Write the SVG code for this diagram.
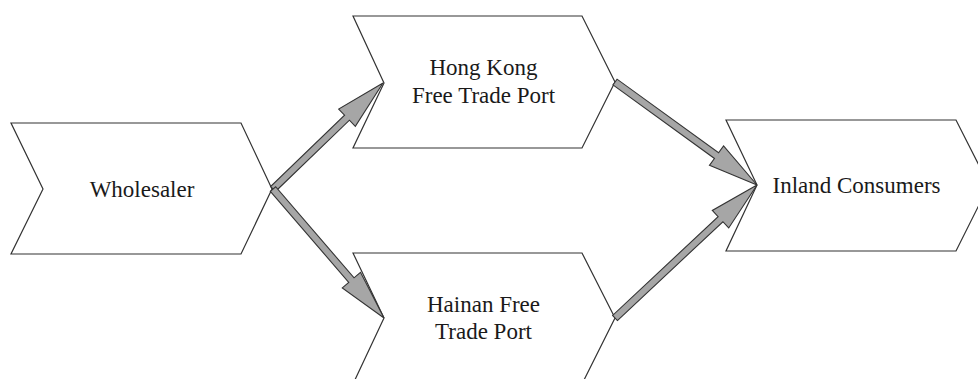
<svg xmlns="http://www.w3.org/2000/svg" width="978" height="379" viewBox="0 0 978 379">
<style>
.node{fill:#fff;stroke:#333;stroke-width:1.2;stroke-linejoin:miter}
.lbl{font-family:"Liberation Serif","Times New Roman",serif;font-size:23px;fill:#1a1a1a;text-anchor:middle}
.arr{fill:#a6a6a6;stroke:#333;stroke-width:1.1;stroke-linejoin:miter}
</style>
<rect width="978" height="379" fill="#fff"/>
<g id="wholesaler">
<polygon class="node" points="11,123 241,123 272,189 241,254 11,254 43,189"/>
<text class="lbl" x="142" y="197">Wholesaler</text>
</g>
<g id="hongkong">
<polygon class="node" points="353,16 582,16 615,82 582,148 353,148 384,83"/>
<text class="lbl" x="483.5" y="75">Hong Kong</text>
<text class="lbl" x="483.5" y="103">Free Trade Port</text>
</g>
<g id="hainan">
<polygon class="node" points="353,253 582,253 615,318 582,384 353,384 384,318"/>
<text class="lbl" x="483.5" y="312">Hainan Free</text>
<text class="lbl" x="483.5" y="339">Trade Port</text>
</g>
<g id="inland">
<polygon class="node" points="726,120 956,120 989,185 956,251 726,251 757,185"/>
<text class="lbl" x="856.5" y="193">Inland Consumers</text>
</g>
<g id="connectors">
<polygon class="arr" points="275.43,191.52 349.43,120.22 355.33,126.34 383,83 338.67,109.06 344.57,115.18 270.57,186.48"/>
<polygon class="arr" points="270.35,191.28 348.74,282.38 342.29,287.93 384,318 360.49,272.27 354.04,277.82 275.65,186.72"/>
<polygon class="arr" points="612.94,84.83 714.46,158.47 709.47,165.35 757,185 723.57,145.93 718.58,152.81 617.06,79.17"/>
<polygon class="arr" points="617.39,320.55 722.90,221.73 728.71,227.94 757,185 712.31,210.42 718.12,216.63 612.61,315.45"/>
</g>
</svg>
